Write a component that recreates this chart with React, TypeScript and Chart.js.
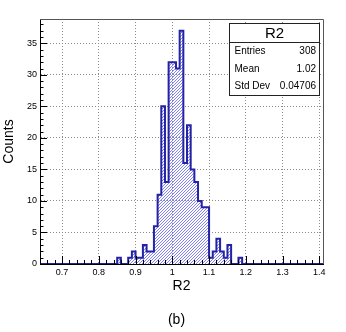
import React, { useEffect, useRef } from 'react';
import { Chart, registerables } from 'chart.js';

Chart.register(...registerables);

// Histogram "R2": bin low edges (bin width 0.01) and counts per bin
const binLowEdges = [
  0.85, 0.86, 0.87, 0.88, 0.89, 0.9, 0.91, 0.92, 0.93, 0.94,
  0.95, 0.96, 0.97, 0.98, 0.99, 1.0, 1.01, 1.02, 1.03, 1.04,
  1.05, 1.06, 1.07, 1.08, 1.09, 1.1, 1.11, 1.12, 1.13, 1.14,
  1.15, 1.16, 1.17, 1.18,
];
const binCounts = [
  1, 0, 0, 1, 2, 1, 1, 3, 2, 2,
  6, 11, 25, 13, 32, 32, 31, 37, 16, 22,
  15, 13, 10, 9, 9, 1, 2, 4, 2, 1,
  3, 0, 0, 1,
];
const binWidth = 0.01;
const xRange = [0.64, 1.41];
const yMax = 38.85;

const xTickValues = [0.7, 0.8, 0.9, 1.0, 1.1, 1.2, 1.3, 1.4];
const yTickValues = [0, 5, 10, 15, 20, 25, 30, 35];

const xTitle = 'R2';
const yTitle = 'Counts';
const caption = '(b)';

const statsTitle = 'R2';
const statsLabels = ['Entries', 'Mean', 'Std Dev'];
const statsValues = ['308', '1.02', '0.04706'];

const FONT = "'Liberation Sans', Arial, Helvetica, sans-serif";
const LINE_COLOR = '#2323a3';

function makeHatch(): CanvasPattern | string {
  const c = document.createElement('canvas');
  const p = 3;
  c.width = p;
  c.height = p;
  const g = c.getContext('2d');
  if (!g) return 'rgba(120,120,255,0.4)';
  g.fillStyle = '#8080ff';
  for (let yy = 0; yy < p; yy++) {
    for (let xx = 0; xx < p; xx++) {
      if ((xx + yy) % p === 0) g.fillRect(xx, yy, 1, 1);
    }
  }
  const pat = g.createPattern(c, 'repeat');
  return pat || 'rgba(120,120,255,0.4)';
}

const rootDeco = {
  id: 'rootDeco',
  afterDatasetsDraw(chart: any) {
    const { ctx, chartArea: a, scales } = chart;
    const x = scales.x;
    const y = scales.y;
    ctx.save();
    ctx.strokeStyle = '#000';
    ctx.lineWidth = 1;
    ctx.beginPath();
    // x ticks (major 0.1, minor 0.02), pointing into the frame
    const kx0 = Math.ceil(x.min / 0.02 - 1e-6);
    const kx1 = Math.floor(x.max / 0.02 + 1e-6);
    for (let k = kx0; k <= kx1; k++) {
      const px = Math.round(x.getPixelForValue(k * 0.02)) + 0.5;
      const len = k % 5 === 0 ? 8 : 4;
      ctx.moveTo(px, a.bottom);
      ctx.lineTo(px, a.bottom - len);
    }
    // y ticks (major 5, minor 1)
    const ky1 = Math.floor(y.max + 1e-6);
    for (let k = 0; k <= ky1; k++) {
      const py = Math.round(y.getPixelForValue(k)) + 0.5;
      const len = k % 5 === 0 ? 7 : 3.5;
      ctx.moveTo(a.left, py);
      ctx.lineTo(a.left + len, py);
    }
    ctx.stroke();
    // top and right frame
    ctx.strokeStyle = '#555';
    ctx.beginPath();
    ctx.moveTo(a.left, a.top + 0.5);
    ctx.lineTo(a.right + 0.5, a.top + 0.5);
    ctx.lineTo(a.right + 0.5, a.bottom);
    ctx.stroke();
    ctx.restore();
  },
  afterDraw(chart: any) {
    const { ctx } = chart;
    ctx.save();
    // stats box
    const bx = 229.5, by = 23.5, bw = 90, bh = 72, th = 19;
    ctx.fillStyle = '#fff';
    ctx.fillRect(bx, by, bw, bh);
    ctx.strokeStyle = '#222';
    ctx.lineWidth = 1;
    ctx.strokeRect(bx, by, bw, bh);
    ctx.beginPath();
    ctx.moveTo(bx, by + th);
    ctx.lineTo(bx + bw, by + th);
    ctx.stroke();
    ctx.fillStyle = '#000';
    ctx.textBaseline = 'middle';
    ctx.textAlign = 'center';
    ctx.font = `15px ${FONT}`;
    ctx.fillText(statsTitle, bx + bw / 2, by + th / 2 + 0.5);
    ctx.font = `10px ${FONT}`;
    const rowH = (bh - th) / statsLabels.length;
    statsLabels.forEach((lab, i) => {
      const cy = by + th + rowH * (i + 0.5);
      ctx.textAlign = 'left';
      ctx.fillText(lab, bx + 5, cy);
      ctx.textAlign = 'right';
      ctx.fillText(statsValues[i], bx + bw - 3.5, cy);
    });
    // caption
    ctx.textAlign = 'center';
    ctx.font = `14px ${FONT}`;
    ctx.fillText(caption, 176.5, 320);
    ctx.restore();
  },
};

export default function App() {
  const ref = useRef<HTMLCanvasElement | null>(null);

  useEffect(() => {
    if (!ref.current) return;
    const points = [
      { x: xRange[0], y: 0 },
      ...binLowEdges.map((e, i) => ({ x: e, y: binCounts[i] })),
      { x: binLowEdges[binLowEdges.length - 1] + binWidth, y: 0 },
      { x: xRange[1], y: 0 },
    ];
    const chart = new Chart(ref.current, {
      type: 'line',
      data: {
        datasets: [
          {
            data: points,
            stepped: 'before',
            borderColor: LINE_COLOR,
            borderWidth: 2,
            pointRadius: 0,
            fill: 'origin',
            backgroundColor: makeHatch() as any,
            tension: 0,
          },
        ],
      },
      options: {
        animation: false,
        responsive: false,
        devicePixelRatio: 1,
        layout: { padding: { top: 19, right: 23, left: 0, bottom: 0 } },
        plugins: { legend: { display: false }, tooltip: { enabled: false } },
        scales: {
          x: {
            type: 'linear',
            min: xRange[0],
            max: xRange[1],
            afterBuildTicks: (s: any) => {
              s.ticks = xTickValues.map((v) => ({ value: v }));
            },
            afterFit: (s: any) => {
              s.height = 68;
            },
            grid: { color: '#8a8a8a', lineWidth: 1, drawTicks: false },
            border: { display: true, color: '#000', width: 1, dash: [1, 2] },
            ticks: {
              padding: 3,
              color: '#000',
              font: { family: FONT, size: 9 },
              maxRotation: 0,
              autoSkip: false,
              callback: (v: any) => String(Math.round(Number(v) * 10) / 10),
            },
            title: {
              display: true,
              text: xTitle,
              color: '#000',
              font: { family: FONT, size: 14 },
              padding: { top: 0, bottom: 37.5 },
            },
          },
          y: {
            type: 'linear',
            min: 0,
            max: yMax,
            afterBuildTicks: (s: any) => {
              s.ticks = yTickValues.map((v) => ({ value: v }));
            },
            afterFit: (s: any) => {
              s.width = 40;
            },
            grid: { color: '#8a8a8a', lineWidth: 1, drawTicks: false },
            border: { display: true, color: '#000', width: 1, dash: [1, 2] },
            ticks: {
              padding: 3,
              color: '#000',
              font: { family: FONT, size: 9 },
              autoSkip: false,
              callback: (v: any) => String(v),
            },
            title: {
              display: true,
              text: yTitle,
              color: '#000',
              font: { family: FONT, size: 14 },
              padding: { top: 1, bottom: 0 },
            },
          },
        },
      },
      plugins: [rootDeco],
    });
    return () => chart.destroy();
  }, []);

  return (
    <div style={{ position: 'absolute', left: 0, top: 0, width: 346, height: 332, background: '#fff' }}>
      <canvas ref={ref} width={346} height={332} style={{ display: 'block' }} />
    </div>
  );
}
